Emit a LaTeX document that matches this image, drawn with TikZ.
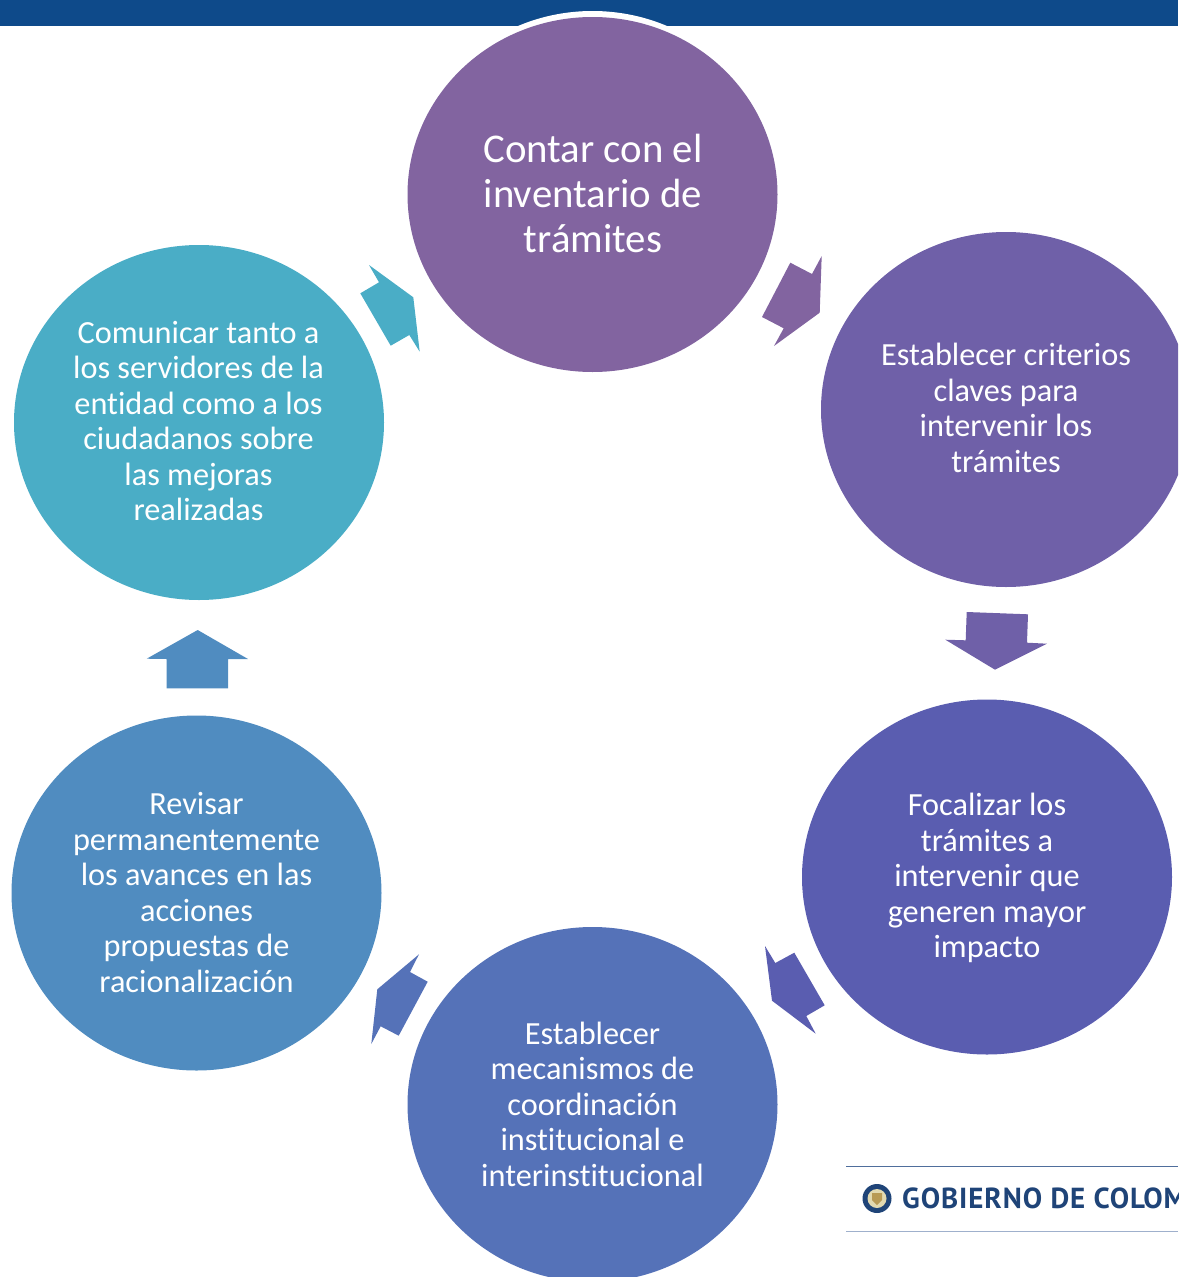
\documentclass[tikz,border=0pt]{standalone}
\usepackage{fontspec}
\setmainfont[Ligatures=NoCommon]{Carlito}
\newfontfamily\logofont[LetterSpace=3.2]{PT Sans}
\usetikzlibrary{shapes.geometric}
\definecolor{bandblue}{HTML}{0E4A8A}
\definecolor{cA}{HTML}{8264A0}
\definecolor{cB}{HTML}{6F60A8}
\definecolor{cC}{HTML}{5A5DB0}
\definecolor{cD}{HTML}{5572B8}
\definecolor{cE}{HTML}{508CC0}
\definecolor{cF}{HTML}{4AADC6}
\definecolor{logotext}{HTML}{1F4478}
\definecolor{ruleA}{HTML}{4F6E9C}
\definecolor{ruleB}{HTML}{9FB0CC}
\definecolor{sealA}{HTML}{E2D9B0}
\definecolor{sealB}{HTML}{B89A55}
\tikzset{
  stage/.style={ellipse,inner sep=0pt,outer sep=0pt,minimum width=370pt,minimum height=355pt},
  stagetext/.style={inner sep=0pt,text=white,align=center,font=\fontsize{32.3}{35.5}\selectfont},
  bigtext/.style={stagetext,font=\fontsize{40.8}{45}\selectfont},
  blockarrow/.style={draw=none}
}
\begin{document}
\begin{tikzpicture}[x=1pt,y=-1pt]
\useasboundingbox (0,0) rectangle (1178,1277);
\clip (0,0) rectangle (1178,1277);
\fill[bandblue] (0,0) rectangle (1178,26);
\fill[white] (592.5,188.5) ellipse [x radius=185,y radius=177.5];
\node[stage,fill=cA,label={[bigtext,yshift=1.5pt,xshift=0.5pt]center:{Contar con el\\inventario de\\trámites}}] (inventario) at (592.5,194.5) {};
\node[stage,fill=cB,label={[stagetext,yshift=1.5pt]center:{Establecer criterios\\claves para\\intervenir los\\trámites}}] (criterios) at (1006,409.5) {};
\node[stage,fill=cC,label={[stagetext,yshift=-1pt]center:{Focalizar los\\trámites a\\intervenir que\\generen mayor\\impacto}}] (focalizar) at (987,877) {};
\node[stage,fill=cD,label={[stagetext,yshift=0.5pt]center:{Establecer\\mecanismos de\\coordinación\\institucional e\\interinstitucional}}] (mecanismos) at (592.5,1104.5) {};
\node[stage,fill=cE,label={[stagetext,yshift=0.5pt]center:{Revisar\\permanentemente\\los avances en las\\acciones\\propuestas de\\racionalización}}] (revisar) at (196.5,893) {};
\node[stage,fill=cF,label={[stagetext,yshift=1.5pt,xshift=-0.5pt]center:{Comunicar tanto a\\los servidores de la\\entidad como a los\\ciudadanos sobre\\las mejoras\\realizadas}}] (comunicar) at (199,422.5) {};
% block arrows
\fill[blockarrow,cA] (790.3,262.7) -- (812,274) -- (821.7,256) -- (819.7,312.7) -- (774,346) -- (783.7,328.3) -- (762,317) -- cycle;
\fill[blockarrow,cB] (966.7,612) -- (1028,614.3) -- (1027,642.7) -- (1047,643.7) -- (995,669.7) -- (945.3,639.7) -- (965.7,640.3) -- cycle;
\fill[blockarrow,cC] (765,946) -- (775.3,963) -- (794.3,952.7) -- (824.7,1005.3) -- (806.3,1016) -- (815.7,1033.7) -- (772,1000.7) -- cycle;
\fill[blockarrow,cD] (419,954.3) -- (410,972) -- (427.7,981.7) -- (398.7,1035.7) -- (380.7,1026.3) -- (371.3,1044) -- (377.3,989.3) -- cycle;
\fill[blockarrow,cE] (197.7,630) -- (248,659) -- (228,659) -- (228,688.3) -- (166.7,688.3) -- (166.7,659) -- (146.7,658.7) -- cycle;
\fill[blockarrow,cF] (369,265) -- (413.3,297.3) -- (419.7,351.7) -- (409.3,335) -- (390.7,345.7) -- (360.3,293.3) -- (379,282.3) -- cycle;
% logo
\draw[line width=1pt,color=ruleA] (846,1166.5) -- (1178,1166.5);
\draw[line width=1pt,color=ruleB] (846,1231) -- (1178,1231);
\fill[logotext] (877,1198.5) circle (14.5);
\fill[sealA] (877,1198.5) circle (9.5);
\fill[sealB] (872,1193) -- (882,1193) -- (882,1200) -- (877,1205) -- (872,1200) -- cycle;
\node[anchor=west,inner sep=0pt,text=logotext,font=\logofont\bfseries\fontsize{29}{29}\selectfont] (gobierno) at (902,1198) {GOBIERNO DE COLOM};
\end{tikzpicture}
\end{document}
